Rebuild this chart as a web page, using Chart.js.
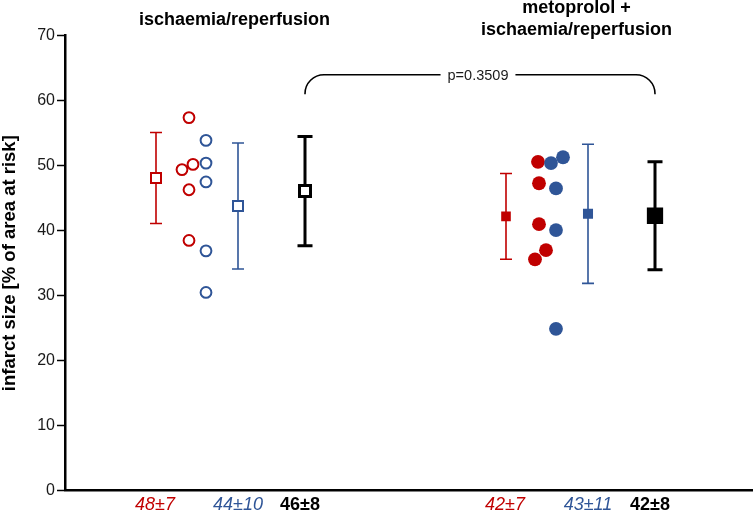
<!DOCTYPE html>
<html>
<head>
<meta charset="utf-8">
<script src="https://cdn.jsdelivr.net/npm/chart.js@4.4.1/dist/chart.umd.min.js"></script>
<style>
html, body { margin: 0; padding: 0; background: #fff; overflow: hidden; }
canvas { display: block; }
</style>
</head>
<body>
<canvas id="myChart" width="753" height="512"></canvas>
<script>
// infarct size [% of area at risk], single hearts
var irRed = [57.4, 50.2, 49.4, 46.3, 38.5];
var irBlue = [53.9, 50.4, 47.5, 36.9, 30.5];
var metoRed = [50.6, 47.3, 41.0, 37.0, 35.6];
var metoBlue = [51.3, 50.4, 46.5, 40.1, 24.9];

// means and SD per group: red, blue, all
var irMean = [48.1, 43.8, 46.1];
var irSD = [7.0, 9.7, 8.4];
var metoMean = [42.2, 42.6, 42.3];
var metoSD = [6.6, 10.7, 8.3];

var meanLabels = [['48\u00b17', '44\u00b110', '46\u00b18'], ['42\u00b17', '43\u00b111', '42\u00b18']];
var groupTitles = [['ischaemia/reperfusion'], ['metoprolol +', 'ischaemia/reperfusion']];
var pLabel = 'p=0.3509';
var bracketY = [61, 64];

// layout (horizontal units = px from the y axis)
var groupShift = [0, 350];
var colX = { red: 91, dotsRed: 124, dotsBlue: 141, blue: 173, all: 240 };
var jitter = {
  irRed: [0, 4, -7, 0, 0],
  irBlue: [0, 0, 0, 0, 0],
  metoRed: [-1, 0, 0, 7, -4],
  metoBlue: [7, -5, 0, 0, 0]
};
var RED = '#c00000', BLUE = '#2f5597', BLACK = '#000000';

function pts(vals, g, col, jit) {
  return vals.map(function (v, i) { return { x: groupShift[g] + colX[col] + (jit ? jit[i] : 0), y: v }; });
}
function meanPt(means, g, i) {
  var cols = ['red', 'blue', 'all'];
  return [{ x: groupShift[g] + colX[cols[i]], y: means[i] }];
}

var datasets = [
  // means (drawn on top)
  { data: meanPt(irMean, 0, 0), pointStyle: 'rect', radius: 7.1, borderWidth: 2, borderColor: RED, backgroundColor: '#fff', order: 1 },
  { data: meanPt(irMean, 0, 1), pointStyle: 'rect', radius: 7.1, borderWidth: 2, borderColor: BLUE, backgroundColor: '#fff', order: 1 },
  { data: meanPt(irMean, 0, 2), pointStyle: 'rect', radius: 7.8, borderWidth: 3, borderColor: BLACK, backgroundColor: '#fff', order: 1 },
  { data: meanPt(metoMean, 1, 0), pointStyle: 'rect', radius: 6.8, borderWidth: 0, borderColor: RED, backgroundColor: RED, order: 1 },
  { data: meanPt(metoMean, 1, 1), pointStyle: 'rect', radius: 7.1, borderWidth: 0, borderColor: BLUE, backgroundColor: BLUE, order: 1 },
  { data: meanPt(metoMean, 1, 2), pointStyle: 'rect', radius: 11.5, borderWidth: 0, borderColor: BLACK, backgroundColor: BLACK, order: 1 },
  // single values
  { data: pts(irBlue, 0, 'dotsBlue', jitter.irBlue), pointStyle: 'circle', radius: 5.4, borderWidth: 2, borderColor: BLUE, backgroundColor: '#fff', order: 2 },
  { data: pts(irRed, 0, 'dotsRed', jitter.irRed), pointStyle: 'circle', radius: 5.4, borderWidth: 2, borderColor: RED, backgroundColor: 'rgba(255,255,255,0)', order: 3 },
  { data: pts(metoBlue, 1, 'dotsBlue', jitter.metoBlue), pointStyle: 'circle', radius: 6.9, borderWidth: 0, borderColor: BLUE, backgroundColor: BLUE, order: 2 },
  { data: pts(metoRed, 1, 'dotsRed', jitter.metoRed), pointStyle: 'circle', radius: 6.9, borderWidth: 0, borderColor: RED, backgroundColor: RED, order: 3 }
];

var overlay = {
  id: 'overlay',
  beforeDatasetsDraw: function (chart) {
    var ctx = chart.ctx, xs = chart.scales.x, ys = chart.scales.y;
    var cols = ['red', 'blue', 'all'], colors = [RED, BLUE, BLACK];
    var means = [irMean, metoMean], sds = [irSD, metoSD];
    ctx.save();
    for (var g = 0; g < 2; g++) {
      for (var i = 0; i < 3; i++) {
        var x = xs.getPixelForValue(groupShift[g] + colX[cols[i]]);
        var yt = ys.getPixelForValue(means[g][i] + sds[g][i]);
        var yb = ys.getPixelForValue(means[g][i] - sds[g][i]);
        var half = i === 2 ? 7.5 : 6;
        ctx.strokeStyle = colors[i];
        ctx.lineWidth = i === 2 ? 3 : 1.6;
        ctx.beginPath();
        ctx.moveTo(x, yt); ctx.lineTo(x, yb);
        ctx.moveTo(x - half, yt); ctx.lineTo(x + half, yt);
        ctx.moveTo(x - half, yb); ctx.lineTo(x + half, yb);
        ctx.stroke();
      }
    }
    ctx.restore();
  },
  afterDatasetsDraw: function (chart) {
    var ctx = chart.ctx, xs = chart.scales.x, ys = chart.scales.y;
    var colors = [RED, BLUE, BLACK], cols = ['red', 'blue', 'all'];
    var labelShift = [-1, 0, -5];
    ctx.save();
    // bottom mean labels
    ctx.textAlign = 'center';
    ctx.textBaseline = 'alphabetic';
    for (var g = 0; g < 2; g++) {
      for (var i = 0; i < 3; i++) {
        ctx.fillStyle = colors[i];
        ctx.font = (i === 2 ? 'bold ' : 'italic ') + '18px "Liberation Sans", Arial, sans-serif';
        ctx.fillText(meanLabels[g][i], xs.getPixelForValue(groupShift[g] + colX[cols[i]] + labelShift[i]), 510);
      }
    }
    // group titles
    ctx.fillStyle = '#000';
    ctx.font = 'bold 18px "Liberation Sans", Arial, sans-serif';
    ctx.fillText(groupTitles[0][0], xs.getPixelForValue(169.5), 25);
    ctx.fillText(groupTitles[1][0], xs.getPixelForValue(groupShift[1] + 161.5), 13);
    ctx.fillText(groupTitles[1][1], xs.getPixelForValue(groupShift[1] + 161.5), 35);
    // bracket
    var x1 = xs.getPixelForValue(groupShift[0] + colX.all);
    var x2 = xs.getPixelForValue(groupShift[1] + colX.all);
    var yLo = ys.getPixelForValue(bracketY[0]);
    var yHi = ys.getPixelForValue(bracketY[1]);
    var r = 19;
    ctx.font = '14.5px "Liberation Sans", Arial, sans-serif';
    var pw = ctx.measureText(pLabel).width;
    var xm = (x1 + x2) / 2 - 2;
    ctx.strokeStyle = '#000';
    ctx.lineWidth = 1.6;
    ctx.beginPath();
    ctx.moveTo(x1, yLo);
    ctx.arcTo(x1, yHi, x1 + r, yHi, r);
    ctx.lineTo(xm - pw / 2 - 7, yHi);
    ctx.moveTo(xm + pw / 2 + 7, yHi);
    ctx.arcTo(x2, yHi, x2, yHi + r, r);
    ctx.lineTo(x2, yLo);
    ctx.stroke();
    ctx.fillStyle = '#1a1a1a';
    ctx.textBaseline = 'middle';
    ctx.fillText(pLabel, xm, yHi + 1);
    // y axis title
    ctx.translate(15, (chart.chartArea.top + chart.chartArea.bottom) / 2);
    ctx.rotate(-Math.PI / 2);
    ctx.textBaseline = 'alphabetic';
    ctx.fillStyle = '#000';
    ctx.font = 'bold 18.5px "Liberation Sans", Arial, sans-serif';
    ctx.fillText('infarct size [% of area at risk]', 0, 0);
    ctx.restore();
  }
};

var ctx = document.getElementById('myChart').getContext('2d');
var chart = new Chart(ctx, {
  type: 'scatter',
  data: { datasets: datasets },
  options: {
    responsive: false,
    animation: false,
    layout: { autoPadding: false, padding: { top: 35.7, left: 0, right: 0, bottom: 0 } },
    plugins: { legend: { display: false }, tooltip: { enabled: false } },
    scales: {
      x: {
        type: 'linear', min: 0, max: 688,
        ticks: { display: false },
        grid: { display: false },
        border: { display: true, color: '#000', width: 2.5 },
        afterFit: function (s) { s.height = 512 - 490.7; }
      },
      y: {
        min: 0, max: 70,
        ticks: { stepSize: 10, color: '#1a1a1a', padding: 2, font: { size: 16, family: '"Liberation Sans", Arial, sans-serif' } },
        grid: { drawOnChartArea: false, drawTicks: true, tickLength: 8, tickColor: '#000', tickWidth: 1.5 },
        border: { display: true, color: '#000', width: 2.5 },
        afterFit: function (s) { s.width = 65; }
      }
    }
  },
  plugins: [overlay]
});
</script>
</body>
</html>
